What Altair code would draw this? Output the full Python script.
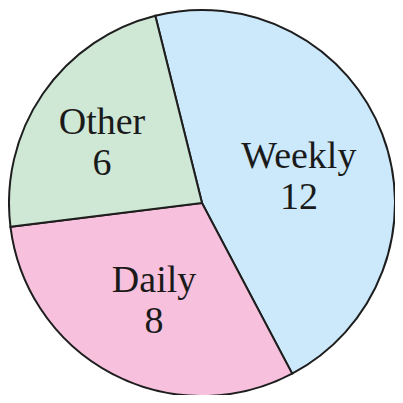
import math
import altair as alt
import pandas as pd

categories = ["Weekly", "Daily", "Other"]
counts = [12, 8, 6]
colors = ["#cbe9fa", "#f7c0dc", "#cfe7d5"]

df = pd.DataFrame({
    "category": categories,
    "count": counts,
    "order": list(range(len(categories))),
})
df["label"] = df["category"] + "\n" + df["count"].astype(str)

start = math.radians(346)
theta_range = [start, start + 2 * math.pi]

cx, cy = 194, 195

arcs = alt.Chart(df).mark_arc(radius=193, stroke="#1e1e1e", strokeWidth=2).encode(
    theta=alt.Theta("count:Q", stack=True, scale=alt.Scale(range=theta_range)),
    order=alt.Order("order:Q"),
    color=alt.Color("category:N", scale=alt.Scale(domain=categories, range=colors), legend=None),
    x=alt.value(cx),
    y=alt.value(cy),
)

text_base = (
    alt.Chart(df)
    .transform_joinaggregate(total="sum(count)")
    .transform_window(cum="sum(count)", sort=[alt.SortField("order")], frame=[None, 0])
    .transform_calculate(frac="(datum.cum - datum.count / 2) / datum.total")
)

text_style = dict(
    radius=108,
    font="Liberation Serif",
    fontSize=38,
    lineBreak="\n",
    lineHeight=41,
    color="#1a1a1a",
    align="center",
    baseline="middle",
)

# small per-label nudges so each label sits where the reference puts it
nudges = {"Weekly": (-4, -7), "Other": (-11, -19), "Daily": (2, -18)}

label_layers = [
    text_base.transform_filter(alt.datum.category == cat)
    .mark_text(dx=dx, dy=dy, **text_style)
    .encode(
        theta=alt.Theta("frac:Q", scale=alt.Scale(domain=[0, 1], range=theta_range)),
        text="label:N",
        x=alt.value(cx),
        y=alt.value(cy),
    )
    for cat, (dx, dy) in nudges.items()
]

chart = (
    alt.layer(arcs, *label_layers)
    .resolve_scale(theta="independent")
    .properties(
        width=387, height=387, padding=0,
        autosize=alt.AutoSizeParams(type="none"),
    )
    .configure_view(stroke=None)
)

chart.save("out.html", embed_options={"renderer": "svg", "actions": False})
